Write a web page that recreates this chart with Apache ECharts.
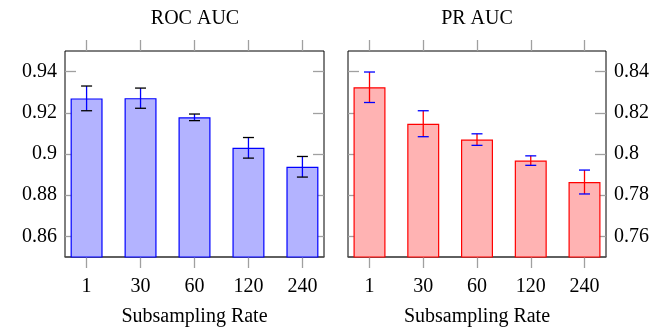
<!DOCTYPE html>
<html>
<head>
<meta charset="utf-8">
<script src="https://cdn.jsdelivr.net/npm/echarts@6/dist/echarts.min.js"></script>
<style>
  html, body { margin: 0; padding: 0; background: #fff; }
  #chart { width: 667px; height: 333px; }
</style>
</head>
<body>
<div id="chart"></div>
<script>
// subsampling rates (x categories)
const rates = ['1', '30', '60', '120', '240']

// ROC AUC means and error half-widths
const rocMean = [0.9270, 0.9271, 0.9178, 0.9030, 0.8938]
const rocErr = [0.0060, 0.0049, 0.0016, 0.0050, 0.0050]

// PR AUC means and error half-widths
const prMean = [0.8324, 0.8147, 0.8070, 0.7968, 0.7864]
const prErr = [0.0074, 0.0063, 0.0028, 0.0023, 0.0058]

const rocTicks = [0.86, 0.88, 0.9, 0.92, 0.94]
const prTicks = [0.76, 0.78, 0.8, 0.82, 0.84]

const font = '"Liberation Serif", serif'
const fontSize = 20
const tickGray = '#a0a0a0'
const positions = [0, 1, 2, 3, 4]

const chart = echarts.init(document.getElementById('chart'))

// error bar: vertical line plus two caps
const errorBar = (lineColor, capColor) => (params, api) => {
  const x = api.value(0)
  const lo = api.coord([x, api.value(1)])
  const hi = api.coord([x, api.value(2)])
  const half = 5.5
  return {
    type: 'group',
    children: [
      { type: 'line', shape: { x1: lo[0], y1: lo[1], x2: hi[0], y2: hi[1] }, style: { stroke: lineColor, lineWidth: 1.3 } },
      { type: 'line', shape: { x1: hi[0] - half, y1: hi[1], x2: hi[0] + half, y2: hi[1] }, style: { stroke: capColor, lineWidth: 1.3 } },
      { type: 'line', shape: { x1: lo[0] - half, y1: lo[1], x2: lo[0] + half, y2: lo[1] }, style: { stroke: capColor, lineWidth: 1.3 } }
    ]
  }
}

const xAxes = (gridIndex) => [
  {
    type: 'value', gridIndex, position: 'bottom', min: -0.4, max: 4.4,
    name: 'Subsampling Rate', nameLocation: 'middle', nameGap: 50,
    nameTextStyle: { fontFamily: font, fontSize, color: '#000' },
    splitLine: { show: false },
    axisLine: { show: true, onZero: false, lineStyle: { color: '#555', width: 1.5 } },
    axisTick: { show: true, customValues: positions, length: 11, lineStyle: { color: tickGray, width: 1.3 } },
    axisLabel: { customValues: positions, formatter: v => rates[Math.round(v)], fontFamily: font, fontSize, color: '#000', margin: 20 }
  },
  {
    type: 'value', gridIndex, position: 'top', min: -0.4, max: 4.4,
    splitLine: { show: false },
    axisLine: { show: false, onZero: false },
    axisTick: { show: true, customValues: positions, length: 11, lineStyle: { color: tickGray, width: 1.3 } },
    axisLabel: { show: false }
  }
]

const yAxes = (gridIndex, min, max, ticks, labelSide) => ['left', 'right'].map(side => ({
  type: 'value', gridIndex, position: side, min, max,
  splitLine: { show: false },
  axisLine: { show: false, onZero: false },
  axisTick: { show: true, inside: true, customValues: ticks, length: 11, lineStyle: { color: tickGray, width: 1.3 } },
  axisLabel: {
    show: side === labelSide, customValues: ticks,
    fontFamily: font, fontSize, color: '#000', margin: 8
  }
}))

const titleStyle = { fontFamily: font, fontSize, fontWeight: 'normal', color: '#000' }

const option = {
  animation: false,
  title: [
    { text: 'ROC AUC', left: 195, top: 9, textAlign: 'center', padding: 0, textStyle: titleStyle },
    { text: 'PR AUC', left: 477, top: 9, textAlign: 'center', padding: 0, textStyle: titleStyle }
  ],
  grid: [
    { left: 65, top: 51, width: 259, height: 206, show: true, borderColor: '#000', borderWidth: 1, backgroundColor: 'transparent' },
    { left: 348, top: 51, width: 258, height: 206, show: true, borderColor: '#000', borderWidth: 1, backgroundColor: 'transparent' }
  ],
  xAxis: [...xAxes(0), ...xAxes(1)],
  yAxis: [...yAxes(0, 0.85, 0.95, rocTicks, 'left'), ...yAxes(1, 0.75, 0.85, prTicks, 'right')],
  series: [
    {
      type: 'bar', xAxisIndex: 0, yAxisIndex: 0, barWidth: 32,
      data: rocMean.map((v, i) => [positions[i], v]),
      itemStyle: { color: '#b3b3ff', borderColor: '#0000ff', borderWidth: 1.2 }
    },
    {
      type: 'custom', xAxisIndex: 0, yAxisIndex: 0, z: 5,
      data: rocMean.map((v, i) => [positions[i], v - rocErr[i], v + rocErr[i]]),
      renderItem: errorBar('#0000ff', '#000')
    },
    {
      type: 'bar', xAxisIndex: 2, yAxisIndex: 2, barWidth: 32,
      data: prMean.map((v, i) => [positions[i], v]),
      itemStyle: { color: '#ffb3b3', borderColor: '#ff0000', borderWidth: 1.2 }
    },
    {
      type: 'custom', xAxisIndex: 2, yAxisIndex: 2, z: 5,
      data: prMean.map((v, i) => [positions[i], v - prErr[i], v + prErr[i]]),
      renderItem: errorBar('#ff0000', '#0000ff')
    }
  ]
}

chart.setOption(option)
</script>
</body>
</html>
